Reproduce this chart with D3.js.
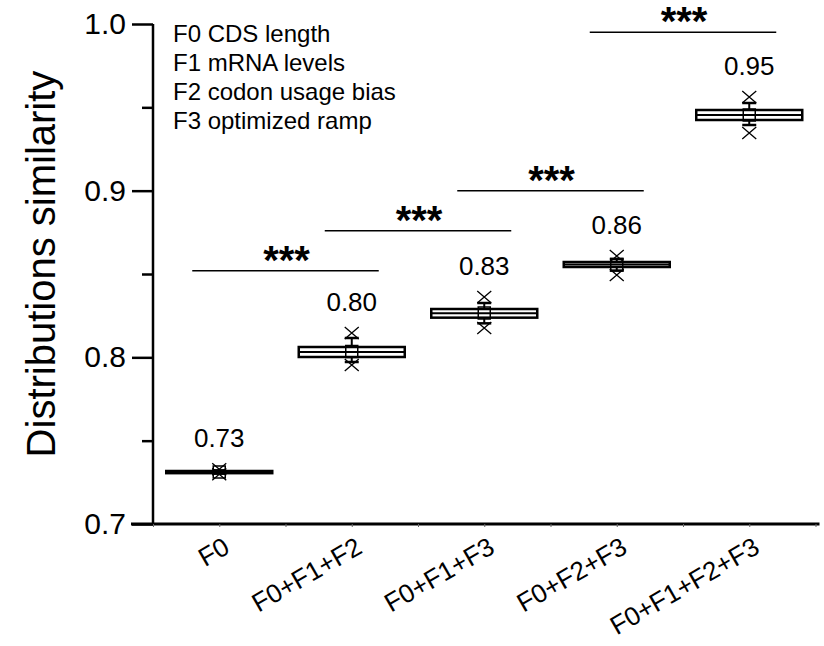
<!DOCTYPE html>
<html>
<head>
<meta charset="utf-8">
<script src="https://cdn.jsdelivr.net/npm/d3@7"></script>
<style>
  body { margin: 0; background: #fff; }
  text { font-family: "Liberation Sans", Arial, sans-serif; fill: #000; }
</style>
</head>
<body>
<svg id="chart" width="824" height="646"></svg>
<script>
const categories = ["F0", "F0+F1+F2", "F0+F1+F3", "F0+F2+F3", "F0+F1+F2+F3"];
const q1Vals      = [0.7305, 0.8002, 0.8238, 0.8542, 0.9424];
const medianVals  = [0.7312, 0.8032, 0.8264, 0.8557, 0.9454];
const q3Vals      = [0.7318, 0.8062, 0.8290, 0.8572, 0.9484];
const meanVals    = [0.7312, 0.8035, 0.8266, 0.8557, 0.9454];
const whiskerLow  = [0.7302, 0.7972, 0.8204, 0.8520, 0.9394];
const whiskerHigh = [0.7322, 0.8116, 0.8326, 0.8590, 0.9526];
const minVals     = [0.7298, 0.7954, 0.8176, 0.8494, 0.9346];
const maxVals     = [0.7328, 0.8146, 0.8362, 0.8608, 0.9562];
const valueLabels = ["0.73", "0.80", "0.83", "0.86", "0.95"];

const legendItems = ["F0 CDS length", "F1 mRNA levels", "F2 codon usage bias", "F3 optimized ramp"];

// significance brackets: [from, to] category index and height
const sigPairs  = [[0, 1], [1, 2], [2, 3], [3, 4]];
const sigLevels = [0.852, 0.876, 0.900, 0.995];
const sigLabels = ["***", "***", "***", "***"];

const yTickVals = [0.7, 0.75, 0.8, 0.85, 0.9, 0.95, 1.0];

const svg = d3.select("#chart");

const x = d3.scaleLinear().domain([0.5, 5.5]).range([153, 815.5]);
const y = d3.scaleLinear().domain([0.7, 1.0]).range([524, 24]);
const band = x(2) - x(1);
const boxW = band * 0.8;

// y axis
const yAxis = svg.append("g")
    .attr("transform", `translate(${x(0.5)},0)`)
    .call(d3.axisLeft(y)
        .tickValues(yTickVals)
        .tickSize(21)
        .tickPadding(6)
        .tickFormat(d => (Math.round(d * 100) % 10 === 0) ? d3.format(".1f")(d) : ""));
yAxis.select(".domain").attr("stroke-width", 2.5).attr("d", `M0,${y(0.7)}V${y(1.0)}`);
yAxis.selectAll(".tick line")
    .attr("stroke-width", 2.5)
    .attr("x2", d => (Math.round(d * 100) % 10 === 0) ? -21 : -11);
yAxis.selectAll(".tick text").style("font-size", "30px");

// x axis
const xAxis = svg.append("g")
    .attr("transform", `translate(0,${y(0.7)})`)
    .call(d3.axisBottom(x)
        .tickValues(d3.range(0.5, 5.51, 0.5))
        .tickSize(3)
        .tickFormat(""));
xAxis.select(".domain").attr("stroke-width", 3).attr("d", `M${x(0.5) - 22},0H${x(5.5) + 4}`);
xAxis.selectAll(".tick line").attr("stroke-width", 1).attr("stroke", "#666");

svg.append("g")
    .selectAll("text")
    .data(categories)
    .enter().append("text")
    .attr("text-anchor", "end")
    .attr("transform", (d, i) => `translate(${x(i + 1) + 12},${y(0.7) + 28}) rotate(-30)`)
    .style("font-size", "26px")
    .text(d => d);

// y axis title
svg.append("text")
    .attr("text-anchor", "middle")
    .attr("transform", `translate(55,${(y(0.7) + y(1.0)) / 2 - 10}) rotate(-90)`)
    .style("font-size", "40px")
    .text("Distributions similarity");

// legend text
svg.append("g")
    .selectAll("text")
    .data(legendItems)
    .enter().append("text")
    .attr("x", 173)
    .attr("y", (d, i) => 42 + i * 29)
    .style("font-size", "24px")
    .text(d => d);

// boxes
const boxes = svg.append("g")
    .attr("stroke", "#000")
    .attr("fill", "none")
    .selectAll("g")
    .data(categories)
    .enter().append("g")
    .attr("transform", (d, i) => `translate(${x(i + 1)},0)`);

boxes.append("line")
    .attr("y1", (d, i) => y(q3Vals[i]))
    .attr("y2", (d, i) => y(whiskerHigh[i]))
    .attr("stroke-width", 2);
boxes.append("line")
    .attr("y1", (d, i) => y(q1Vals[i]))
    .attr("y2", (d, i) => y(whiskerLow[i]))
    .attr("stroke-width", 2);
boxes.append("line")
    .attr("x1", -7).attr("x2", 7)
    .attr("y1", (d, i) => y(whiskerHigh[i]))
    .attr("y2", (d, i) => y(whiskerHigh[i]))
    .attr("stroke-width", 2.5);
boxes.append("line")
    .attr("x1", -7).attr("x2", 7)
    .attr("y1", (d, i) => y(whiskerLow[i]))
    .attr("y2", (d, i) => y(whiskerLow[i]))
    .attr("stroke-width", 2.5);

boxes.append("rect")
    .attr("x", -boxW / 2)
    .attr("width", boxW)
    .attr("y", (d, i) => y(q3Vals[i]))
    .attr("height", (d, i) => y(q1Vals[i]) - y(q3Vals[i]))
    .attr("stroke-width", 2.5);
boxes.append("line")
    .attr("x1", -boxW / 2).attr("x2", boxW / 2)
    .attr("y1", (d, i) => y(medianVals[i]))
    .attr("y2", (d, i) => y(medianVals[i]))
    .attr("stroke-width", 2);

// mean square
boxes.append("rect")
    .attr("x", -6).attr("width", 12)
    .attr("y", (d, i) => y(meanVals[i]) - 6)
    .attr("height", 12)
    .attr("stroke-width", 1.5);

// min / max crosses
const cross = "M-7,-6L7,6M-7,6L7,-6";
boxes.append("path")
    .attr("d", cross)
    .attr("transform", (d, i) => `translate(0,${y(maxVals[i])})`)
    .attr("stroke-width", 1.3);
boxes.append("path")
    .attr("d", cross)
    .attr("transform", (d, i) => `translate(0,${y(minVals[i])})`)
    .attr("stroke-width", 1.3);

// value labels
svg.append("g")
    .selectAll("text")
    .data(valueLabels)
    .enter().append("text")
    .attr("text-anchor", "middle")
    .attr("x", (d, i) => x(i + 1))
    .attr("y", (d, i) => y(maxVals[i]) - 22)
    .style("font-size", "26px")
    .text(d => d);

// significance lines
const sig = svg.append("g")
    .selectAll("g")
    .data(sigPairs)
    .enter().append("g");

sig.append("line")
    .attr("x1", d => x(d[0] + 1) - 27)
    .attr("x2", d => x(d[1] + 1) + 27)
    .attr("y1", (d, i) => y(sigLevels[i]))
    .attr("y2", (d, i) => y(sigLevels[i]))
    .attr("stroke", "#000")
    .attr("stroke-width", 1.5);

sig.append("text")
    .attr("text-anchor", "middle")
    .attr("x", d => (x(d[0] + 1) + x(d[1] + 1)) / 2 + 1)
    .attr("y", (d, i) => y(sigLevels[i]) + 3)
    .style("font-size", "40px")
    .style("font-weight", "bold")
    .text((d, i) => sigLabels[i]);
</script>
</body>
</html>
